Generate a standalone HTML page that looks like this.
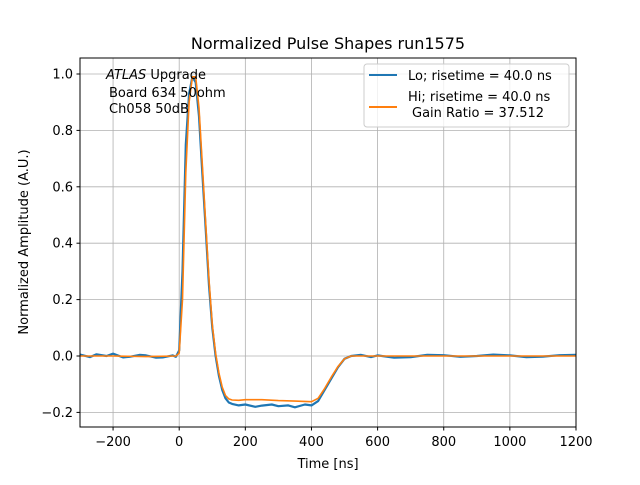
<!DOCTYPE html>
<html><head><meta charset="utf-8"><style>
body{margin:0;background:#fff;}
svg text{font-family:"DejaVu Sans","Liberation Sans",sans-serif;fill:#000;}
</style></head><body>
<svg id="chart" width="640" height="480" viewBox="0 0 640 480" xmlns="http://www.w3.org/2000/svg">
<rect width="640" height="480" fill="#fff"/>
<g id="grid"></g>
<g id="series"></g>
<rect x="80" y="58" width="496" height="369" fill="none" stroke="#000" stroke-width="1"/>
<g id="ticks"></g>
<text x="328" y="49" font-size="16" text-anchor="middle">Normalized Pulse Shapes run1575</text>
<text x="328" y="468" font-size="13" text-anchor="middle">Time [ns]</text>
<text transform="translate(28,242) rotate(-90)" font-size="13" text-anchor="middle">Normalized Amplitude (A.U.)</text>
<g font-size="13">
<text x="106" y="79"><tspan font-style="italic">ATLAS</tspan> Upgrade</text>
<text x="109" y="97">Board 634 50ohm</text>
<text x="109" y="113">Ch058 50dB</text>
</g>
<g>
<rect x="364" y="64" width="205" height="63" rx="3" fill="#fff" fill-opacity="0.8" stroke="#ccc"/>
<line x1="369" y1="75" x2="397" y2="75" stroke="#1f77b4" stroke-width="2"/>
<text x="408" y="80" font-size="13">Lo; risetime = 40.0 ns</text>
<line x1="369" y1="107" x2="397" y2="107" stroke="#ff7f0e" stroke-width="2"/>
<text x="408" y="101" font-size="13">Hi; risetime = 40.0 ns</text>
<text x="412" y="117" font-size="13">Gain Ratio = 37.512</text>
</g>
</svg>
<script>
const xTicks=[-200,0,200,400,600,800,1000,1200];
const yTicks=[-0.2,0.0,0.2,0.4,0.6,0.8,1.0];
const yTickLabels=["−0.2","0.0","0.2","0.4","0.6","0.8","1.0"];
const xTickLabels=["−200","0","200","400","600","800","1000","1200"];
const loTimes=[-300,-270,-250,-220,-200,-170,-150,-120,-100,-70,-50,-20,-10,0,10,20,30,40,50,60,70,80,90,100,110,120,130,140,150,160,180,200,230,250,280,300,330,350,380,400,420,440,460,480,500,520,550,580,600,650,700,750,800,850,900,950,1000,1050,1100,1150,1200];
const loValues=[0.005,-0.004,0.006,0.0,0.008,-0.005,-0.003,0.004,0.002,-0.006,-0.005,0.002,-0.003,0.02,0.3,0.75,0.93,0.99,0.97,0.85,0.65,0.45,0.25,0.1,0.0,-0.07,-0.12,-0.15,-0.165,-0.17,-0.175,-0.172,-0.18,-0.176,-0.172,-0.178,-0.175,-0.182,-0.172,-0.175,-0.16,-0.12,-0.08,-0.04,-0.01,0.0,0.004,-0.004,0.002,-0.006,-0.004,0.004,0.003,-0.003,0.0,0.005,0.002,-0.004,-0.002,0.003,0.004];
const hiTimes=[-300,-200,-100,-10,0,10,20,30,40,50,60,70,80,90,100,110,120,130,140,150,160,180,200,250,300,350,400,420,440,460,480,500,520,550,600,700,800,900,1000,1100,1200];
const hiValues=[0.0,0.0,-0.002,0.0,0.01,0.2,0.65,0.9,0.99,0.99,0.88,0.68,0.47,0.27,0.11,0.01,-0.06,-0.11,-0.14,-0.152,-0.156,-0.157,-0.155,-0.155,-0.158,-0.16,-0.162,-0.15,-0.115,-0.075,-0.038,-0.01,0.0,0.0,0.0,0.0,0.0,0.0,0.0,0.0,0.0];
const X=v=>80+(v+300)*(496/1500);
const Y=v=>356-v*282;
const ns="http://www.w3.org/2000/svg";
function mk(t,a,p){const e=document.createElementNS(ns,t);for(const k in a)e.setAttribute(k,a[k]);p.appendChild(e);return e;}
const grid=document.getElementById('grid'),ticks=document.getElementById('ticks'),series=document.getElementById('series');
xTicks.forEach((v,i)=>{
 const g=mk('line',{x1:X(v),x2:X(v),y1:58,y2:427,stroke:'#b0b0b0','stroke-width':0.8},grid);
 
 
 const t=mk('line',{x1:X(v),x2:X(v),y1:427,y2:430.5,stroke:'#000'},ticks);
 
 
 const l=mk('text',{x:X(v),y:446,'font-size':13,'text-anchor':'middle'},ticks);l.textContent=xTickLabels[i];
 
 
});
yTicks.forEach((v,i)=>{
 const g=mk('line',{x1:80,x2:576,y1:Y(v),y2:Y(v),stroke:'#b0b0b0','stroke-width':0.8},grid);
 
 
 const t=mk('line',{x1:76.5,x2:80,y1:Y(v),y2:Y(v),stroke:'#000'},ticks);
 
 
 const l=mk('text',{x:73,y:Y(v)+4.5,'font-size':13,'text-anchor':'end'},ticks);l.textContent=yTickLabels[i];
 
 
});
function line(ts,vs,c,w,name){
 const d=ts.map((t,i)=>(i?'L':'M')+X(t).toFixed(1)+','+Y(vs[i]).toFixed(1)).join('');
 const p=mk('path',{d:d,fill:'none',stroke:c,'stroke-width':w,'stroke-linejoin':'round'},series);
 
 
}
line(loTimes,loValues,'#1f77b4',2.2,'lo-series-line');
line(hiTimes,hiValues,'#ff7f0e',1.6,'hi-series-line');
</script>
</body></html>
